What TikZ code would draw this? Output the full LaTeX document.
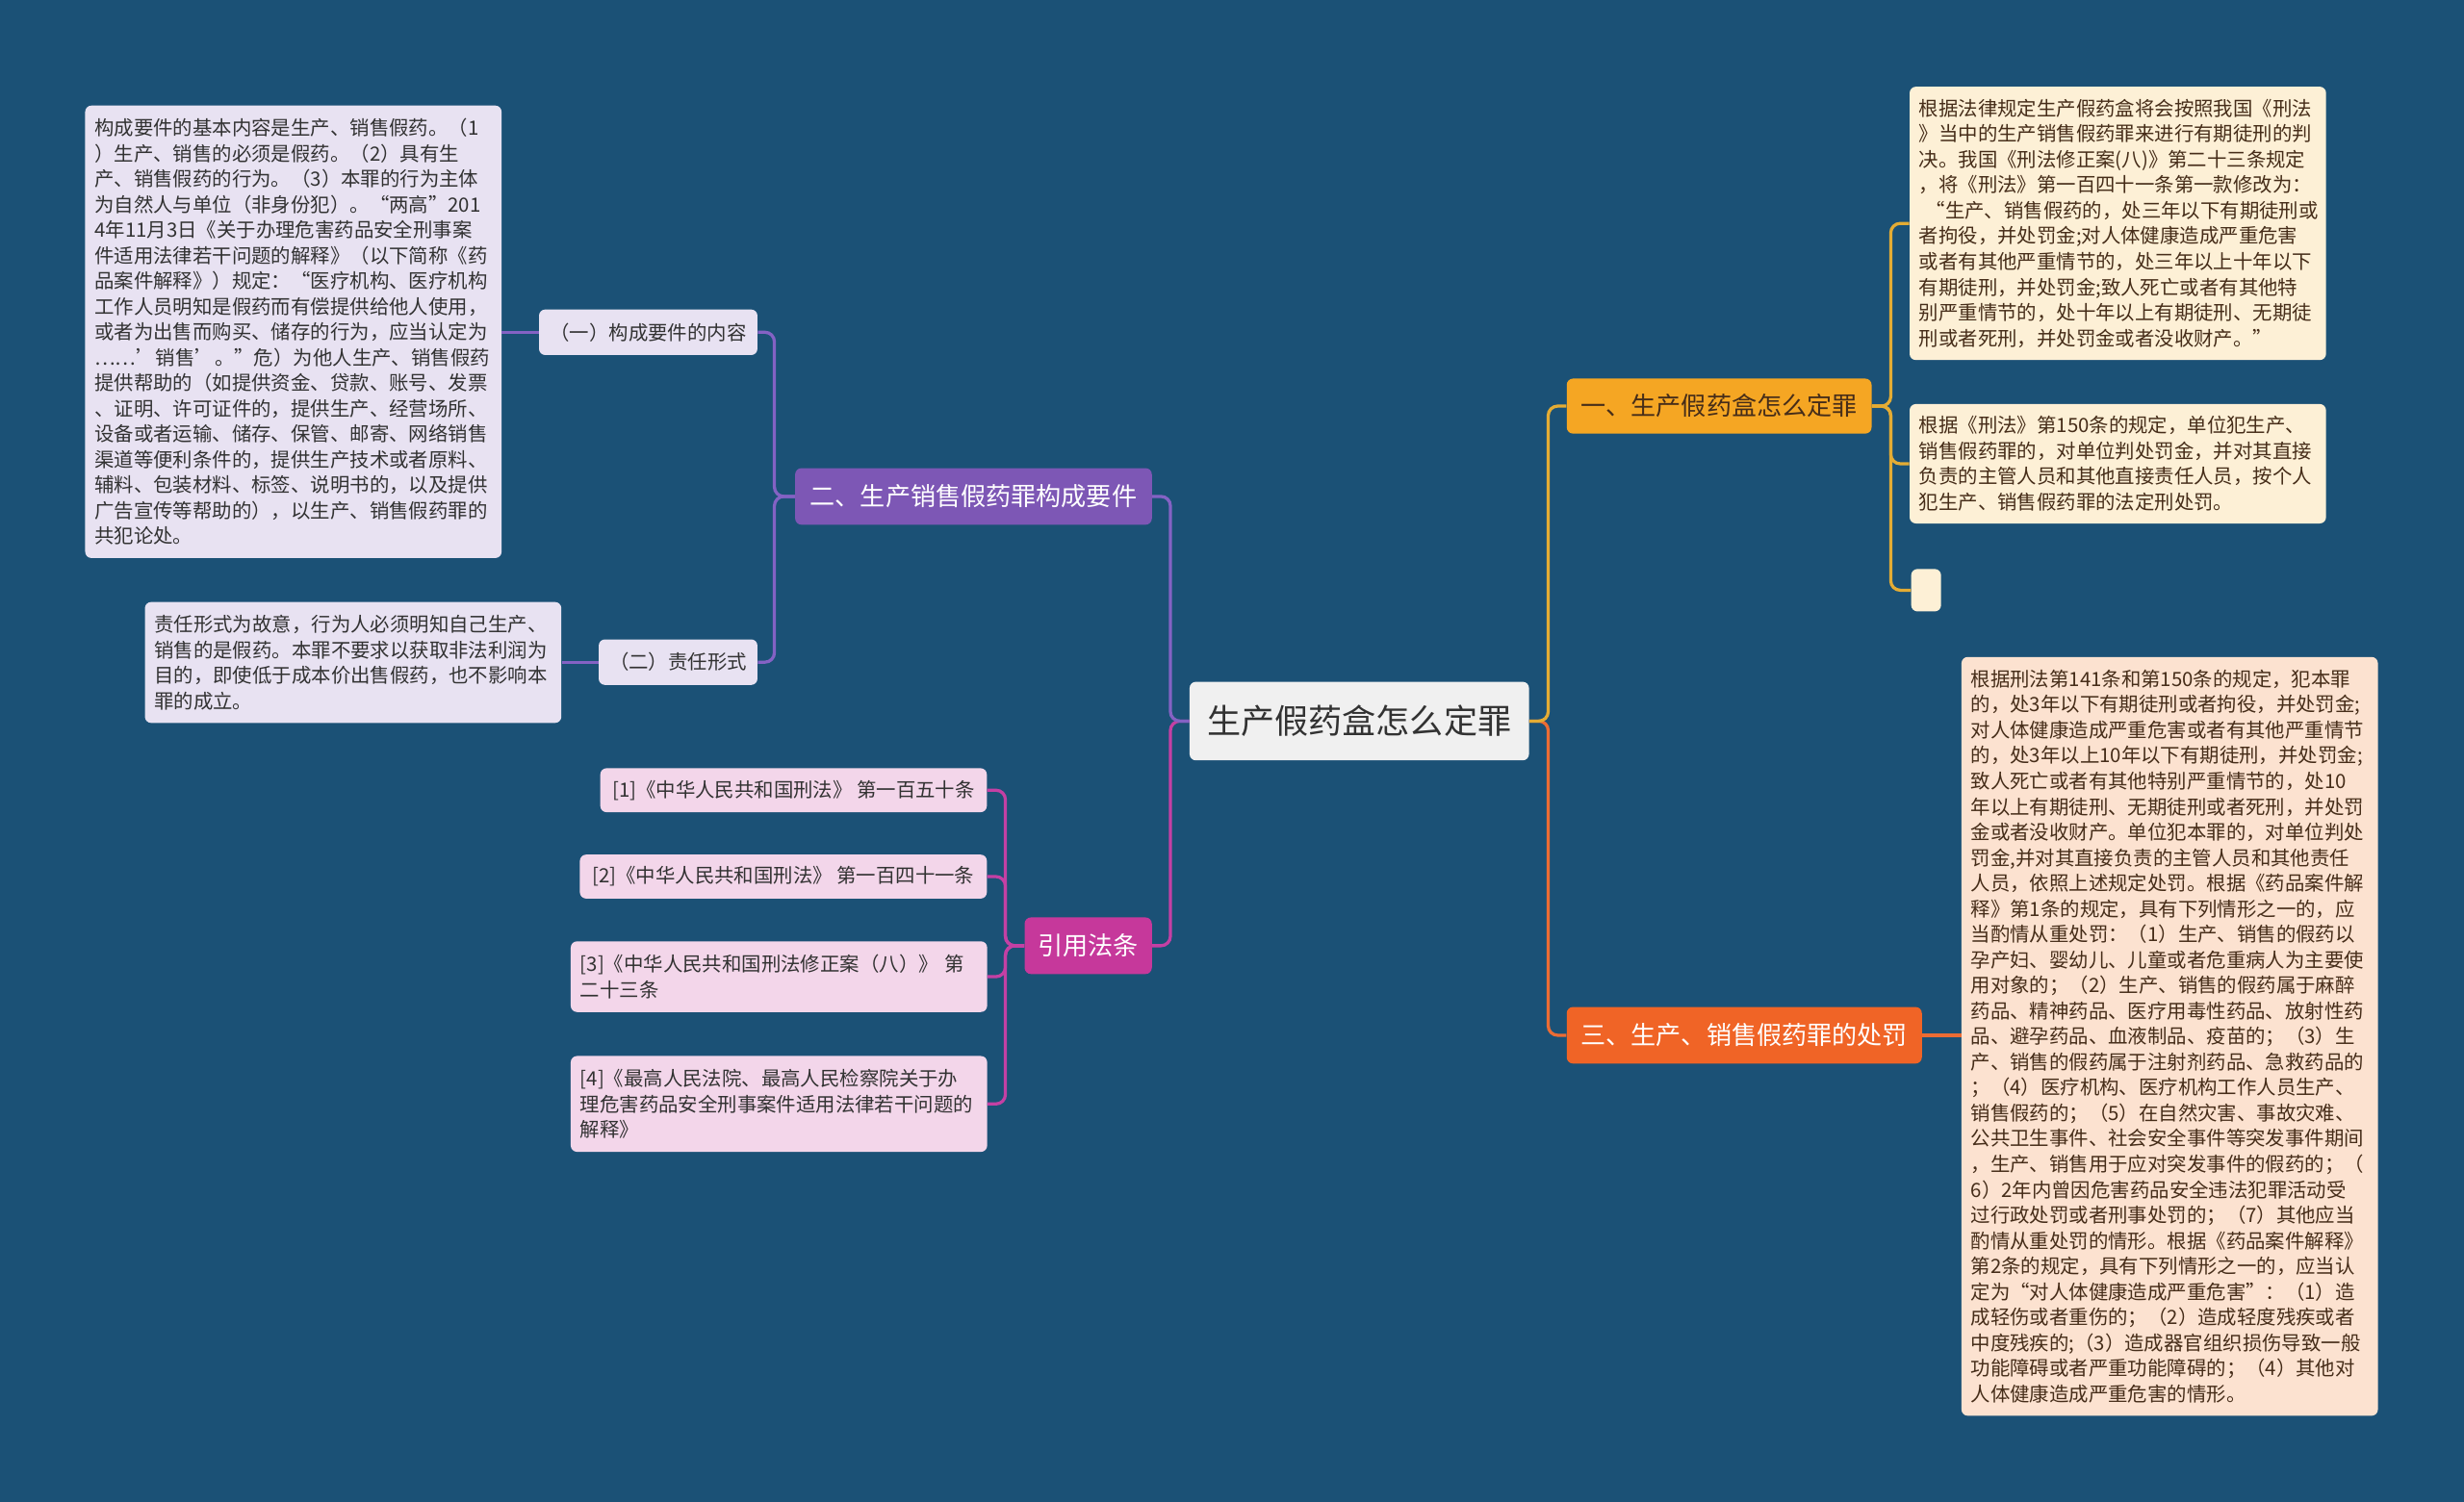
\documentclass[tikz,border=0pt]{standalone}
\usepackage{fontspec}
\setmainfont{Noto Sans CJK SC}
\definecolor{bg}{RGB}{27,81,118}
\definecolor{purpfill}{RGB}{125,87,181}
\definecolor{lav}{RGB}{232,226,242}
\definecolor{purpline}{RGB}{132,98,196}
\definecolor{magfill}{RGB}{198,56,155}
\definecolor{pinkfill}{RGB}{243,214,234}
\definecolor{magline}{RGB}{196,64,164}
\definecolor{orfill}{RGB}{245,166,35}
\definecolor{cream}{RGB}{253,240,214}
\definecolor{goldline}{RGB}{228,172,52}
\definecolor{redfill}{RGB}{240,100,38}
\definecolor{peach}{RGB}{252,226,208}
\definecolor{redline}{RGB}{236,108,52}
\definecolor{rootfill}{RGB}{240,240,240}
\definecolor{dk}{RGB}{50,50,50}
\definecolor{brown}{RGB}{70,45,25}
\begin{document}
\begin{tikzpicture}[x=1pt,y=-1pt,
  base/.style={rounded corners=4pt, inner sep=0pt, align=center},
  tbox/.style={base, anchor=north west, align=left, inner xsep=6pt, inner ysep=0pt, text width=253pt, font=\fontsize{12.5}{16.25}\selectfont},
  subn/.style={base, font=\fontsize{12.5}{15}\selectfont},
  mainn/.style={base, font=\fontsize{16}{18}\selectfont, minimum height=36pt},
  conn/.style={line width=2pt, rounded corners=6pt},
  cpurp/.style={conn, draw=purpline},
  cmag/.style={conn, draw=magline},
  cgold/.style={conn, draw=goldline},
  cred/.style={conn, draw=redline}]
\fill[bg] (0,0) rectangle (1568,956);
\useasboundingbox (0,0) rectangle (1568,956);

% root
\node[base, fill=rootfill, text=dk, minimum width=216pt, minimum height=50pt, font=\fontsize{21.5}{24}\selectfont] (root) at (865,459) {生产假药盒怎么定罪};

% left branch: 二
\node[mainn, fill=purpfill, text=white, minimum width=227pt] (b2) at (619.5,316) {二、生产销售假药罪构成要件};
\node[subn, fill=lav, text=dk, minimum width=139pt, minimum height=29pt] (c21) at (412.5,211.5) {（一）构成要件的内容};
\node[subn, fill=lav, text=dk, minimum width=101pt, minimum height=29pt] (c22) at (431.5,421.5) {（二）责任形式};
\node[tbox, fill=lav, text=dk, minimum height=288pt] (t21) at (54,67) {构成要件的基本内容是生产、销售假药。（1\\）生产、销售的必须是假药。（2）具有生\\产、销售假药的行为。（3）本罪的行为主体\\为自然人与单位（非身份犯）。“两高”201\\4年11月3日《关于办理危害药品安全刑事案\\件适用法律若干问题的解释》（以下简称《药\\品案件解释》）规定：“医疗机构、医疗机构\\工作人员明知是假药而有偿提供给他人使用，\\或者为出售而购买、储存的行为，应当认定为\\……’销售’。”危）为他人生产、销售假药\\提供帮助的（如提供资金、贷款、账号、发票\\、证明、许可证件的，提供生产、经营场所、\\设备或者运输、储存、保管、邮寄、网络销售\\渠道等便利条件的，提供生产技术或者原料、\\辅料、包装材料、标签、说明书的，以及提供\\广告宣传等帮助的），以生产、销售假药罪的\\共犯论处。};
\node[tbox, fill=lav, text=dk, minimum height=77pt] (t22) at (92,383) {责任形式为故意，行为人必须明知自己生产、\\销售的是假药。本罪不要求以获取非法利润为\\目的，即使低于成本价出售假药，也不影响本\\罪的成立。};

% left branch: 引用法条
\node[mainn, fill=magfill, text=white, minimum width=81pt] (bref) at (692.5,602) {引用法条};
\node[subn, fill=pinkfill, text=dk, minimum width=246pt, minimum height=28pt] (r1) at (505,503) {[1]《中华人民共和国刑法》 第一百五十条};
\node[subn, fill=pinkfill, text=dk, minimum width=259pt, minimum height=28pt] (r2) at (498.5,558) {[2]《中华人民共和国刑法》 第一百四十一条};
\node[tbox, fill=pinkfill, text=dk, minimum height=45pt] (r3) at (363,599) {[3]《中华人民共和国刑法修正案（八）》 第\\二十三条};
\node[tbox, fill=pinkfill, text=dk, minimum height=61pt] (r4) at (363,672) {[4]《最高人民法院、最高人民检察院关于办\\理危害药品安全刑事案件适用法律若干问题的\\解释》};

% right branch: 一
\node[mainn, fill=orfill, text=brown, minimum width=194pt, minimum height=35pt] (b1) at (1094,258.5) {一、生产假药盒怎么定罪};
\node[tbox, fill=cream, text=brown, minimum height=174pt] (tA) at (1215,55) {根据法律规定生产假药盒将会按照我国《刑法\\》当中的生产销售假药罪来进行有期徒刑的判\\决。我国《刑法修正案(八)》第二十三条规定\\，将《刑法》第一百四十一条第一款修改为：\\~“生产、销售假药的，处三年以下有期徒刑或\\者拘役，并处罚金;对人体健康造成严重危害\\或者有其他严重情节的，处三年以上十年以下\\有期徒刑，并处罚金;致人死亡或者有其他特\\别严重情节的，处十年以上有期徒刑、无期徒\\刑或者死刑，并处罚金或者没收财产。”};
\node[tbox, fill=cream, text=brown, minimum height=76pt] (tB) at (1215,257) {根据《刑法》第150条的规定，单位犯生产、\\销售假药罪的，对单位判处罚金，并对其直接\\负责的主管人员和其他直接责任人员，按个人\\犯生产、销售假药罪的法定刑处罚。};
\node[base, anchor=north west, fill=cream, minimum width=19pt, minimum height=27pt] (e1) at (1216,362) {};

% right branch: 三
\node[mainn, fill=redfill, text=white, minimum width=226pt] (b3) at (1110,659) {三、生产、销售假药罪的处罚};
\node[tbox, fill=peach, text=brown, minimum height=483pt] (tC) at (1248,418) {根据刑法第141条和第150条的规定，犯本罪\\的，处3年以下有期徒刑或者拘役，并处罚金;\\对人体健康造成严重危害或者有其他严重情节\\的，处3年以上10年以下有期徒刑，并处罚金;\\致人死亡或者有其他特别严重情节的，处10\\年以上有期徒刑、无期徒刑或者死刑，并处罚\\金或者没收财产。单位犯本罪的，对单位判处\\罚金,并对其直接负责的主管人员和其他责任\\人员，依照上述规定处罚。根据《药品案件解\\释》第1条的规定，具有下列情形之一的，应\\当酌情从重处罚：（1）生产、销售的假药以\\孕产妇、婴幼儿、儿童或者危重病人为主要使\\用对象的；（2）生产、销售的假药属于麻醉\\药品、精神药品、医疗用毒性药品、放射性药\\品、避孕药品、血液制品、疫苗的；（3）生\\产、销售的假药属于注射剂药品、急救药品的\\；（4）医疗机构、医疗机构工作人员生产、\\销售假药的；（5）在自然灾害、事故灾难、\\公共卫生事件、社会安全事件等突发事件期间\\，生产、销售用于应对突发事件的假药的；（\\6）2年内曾因危害药品安全违法犯罪活动受\\过行政处罚或者刑事处罚的；（7）其他应当\\酌情从重处罚的情形。根据《药品案件解释》\\第2条的规定，具有下列情形之一的，应当认\\定为“对人体健康造成严重危害”：（1）造\\成轻伤或者重伤的；（2）造成轻度残疾或者\\中度残疾的;（3）造成器官组织损伤导致一般\\功能障碍或者严重功能障碍的；（4）其他对\\人体健康造成严重危害的情形。};

% connectors
\draw[cmag] (root.west) -- ++(-12,0) |- (bref.east);
\draw[cpurp] (root.west) -- ++(-12,0) |- (b2.east);
\draw[cpurp] (b2.west) -- ++(-13,0) |- (c21.east);
\draw[cpurp] (b2.west) -- ++(-13,0) |- (c22.east);
\draw[cpurp] (c21.west) -- (c21.west -| t21.east);
\draw[cpurp] (c22.west) -- (c22.west -| t22.east);
\draw[cmag] (bref.west) -- ++(-12,0) |- (r1.east);
\draw[cmag] (bref.west) -- ++(-12,0) |- (r2.east);
\draw[cmag] (bref.west) -- ++(-12,0) |- (r3.east);
\draw[cmag] (bref.west) -- ++(-12,0) |- (r4.east);
\draw[cred] (root.east) -- ++(12,0) |- (b3.west);
\draw[cgold] (root.east) -- ++(12,0) |- (b1.west);
\draw[cgold] (b1.east) -- ++(12,0) |- (tA.west);
\draw[cgold] (b1.east) -- ++(12,0) |- (tB.west);
\draw[cgold] (b1.east) -- ++(12,0) |- (e1.west);
\draw[cred] (b3.east) -- (b3.east -| tC.west);
\end{tikzpicture}
\end{document}
